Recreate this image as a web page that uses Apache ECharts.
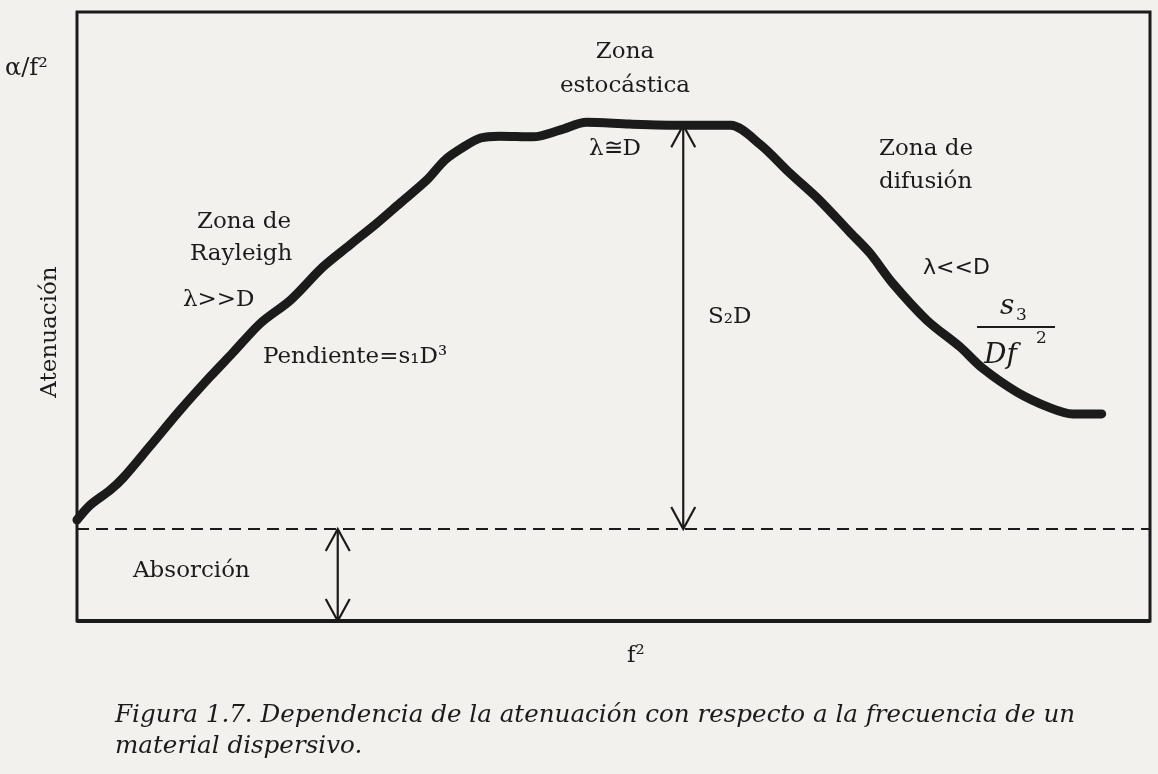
<!DOCTYPE html>
<html><head><meta charset="utf-8">
<script src="https://cdn.jsdelivr.net/npm/echarts@6/dist/echarts.min.js"></script>
<style>html,body{margin:0;padding:0;background:#f2f1ee;}#c{width:1158px;height:774px;}</style>
</head><body><div id="c"></div>
<script>
// f^2 (relative units) and attenuation alpha/f^2 (relative units)
const freqSq = [0,1.2,3.1,4.3,6.8,9.6,12.4,14.5,17.1,19.9,22.9,25.4,28.0,30.1,32.6,34.3,36.0,37.6,39.4,42.5,45.0,47.5,51.5,56.5,60.9,63.7,66.4,69.2,72.0,73.9,76.0,79.2,82.3,84.4,87.6,90.7,92.8,95.5];
const atten  = [16.6,19.0,21.5,23.5,28.7,34.6,40.1,44.0,48.9,52.7,58.1,61.7,65.4,68.6,72.4,75.7,77.8,79.3,79.6,79.5,80.6,81.9,81.6,81.4,81.4,78.2,73.6,69.1,63.9,60.4,55.5,49.4,45.0,41.5,37.6,35.0,34.0,34.0];
const absorptionLevel = 15.1;
// double arrows: [x, from, to]
const arrowX    = [56.5, 24.3];
const arrowFrom = [absorptionLevel, 0];
const arrowTo   = [81.4, absorptionLevel];
const caption = ["Figura 1.7. Dependencia de la atenuación con respecto a la frecuencia de un", "material dispersivo."];

const chart = echarts.init(document.getElementById('c'), null, {renderer:'canvas'});
const SERIF = "'DejaVu Serif', serif";
const SANS = "'DejaVu Sans', sans-serif";
const INK = '#1b1b1b';
function T(text, x, y, opt) {
  opt = opt || {};
  return {type:'text', x:x, y:y, rotation: opt.rot || 0, z:10,
    style:{text:text, fill:INK, fontFamily: opt.family || SERIF, fontSize: opt.size || 23,
      fontStyle: opt.style || 'normal', align: opt.align || 'left', verticalAlign: opt.va || 'middle'}};
}
const option = {
  backgroundColor:'#f2f1ee',
  animation:false,
  grid:{left:77, top:12, right:8, bottom:153, show:true, borderColor:INK, borderWidth:3, backgroundColor:'transparent'},
  xAxis:{type:'value', min:0, max:100, show:false},
  yAxis:{type:'value', min:0, max:100, show:false},
  series:[
    {type:'line', data: freqSq.map((x,i)=>[x, atten[i]]), showSymbol:false, symbol:'none', smooth:0.3,
     lineStyle:{color:INK, width:9, cap:'round', join:'round'}, z:5},
    {type:'line', data:[[0,absorptionLevel],[100,absorptionLevel]], showSymbol:false, symbol:'none',
     lineStyle:{color:INK, width:2, type:[12,7]}, z:3},
    {type:'custom', data: arrowX.map((x,i)=>[x, arrowFrom[i], arrowTo[i]]), z:4,
     renderItem:function(params, api){
       const p0 = api.coord([api.value(0), api.value(1)]);
       const p1 = api.coord([api.value(0), api.value(2)]);
       const L = 22, W = 12;
       const st = {stroke:INK, lineWidth:2.2, fill:'none'};
       return {type:'group', children:[
         {type:'line', shape:{x1:p0[0], y1:p0[1], x2:p1[0], y2:p1[1]}, style:st},
         {type:'polyline', shape:{points:[[p1[0]-W,p1[1]+L],[p1[0],p1[1]],[p1[0]+W,p1[1]+L]]}, style:st},
         {type:'polyline', shape:{points:[[p0[0]-W,p0[1]-L],[p0[0],p0[1]],[p0[0]+W,p0[1]-L]]}, style:st}
       ]};
     }}
  ],
  graphic:[
    {type:'line', shape:{x1:77, y1:621, x2:1150, y2:621}, style:{stroke:INK, lineWidth:4}, z:6},
    T('α/f²', 5, 69, {size:24}),
    T('Atenuación', 50, 332, {rot:Math.PI/2, align:'center'}),
    T('Zona de', 197, 222),
    T('Rayleigh', 190, 254),
    T('λ>>D', 183, 300),
    T('Pendiente=s₁D³', 263, 357),
    T('Zona', 625, 52, {align:'center'}),
    T('estocástica', 625, 86, {align:'center'}),
    T('λ≅D', 589, 149),
    T('S₂D', 708, 317),
    T('Zona de', 879, 149),
    T('difusión', 879, 182),
    T('λ<<D', 923, 268, {family:SANS, size:22}),
    T('s', 1000, 307, {size:28, style:'italic'}),
    T('3', 1016, 316, {size:17}),
    {type:'line', shape:{x1:977, y1:327, x2:1055, y2:327}, style:{stroke:INK, lineWidth:2}},
    T('Df', 984, 356, {size:28, style:'italic'}),
    T('2', 1036, 339, {size:17}),
    T('Absorción', 133, 571),
    T('f²', 627, 656),
    T(caption[0], 115, 716, {size:24.6, style:'italic'}),
    T(caption[1], 115, 747, {size:24.6, style:'italic'})
  ]
};
chart.setOption(option);
</script></body></html>
